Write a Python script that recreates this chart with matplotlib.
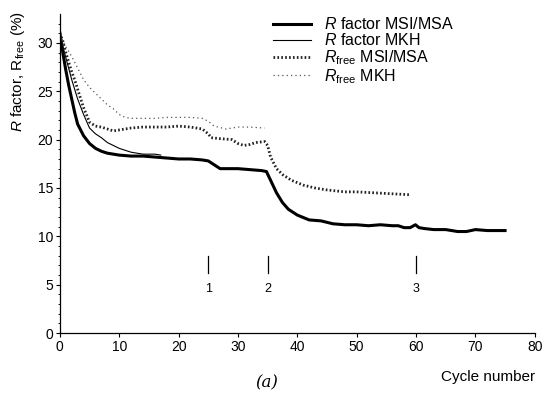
import numpy as np
import matplotlib
matplotlib.use("Agg")
import matplotlib.pyplot as plt

plt.rcParams['font.family'] = ['Liberation Sans', 'DejaVu Sans']
plt.rcParams['mathtext.fontset'] = 'custom'
plt.rcParams['mathtext.rm'] = 'Liberation Sans'
plt.rcParams['mathtext.it'] = 'Liberation Sans:italic'

# R factor MSI/MSA (thick solid)
cyc_r_msi = [0, 0.5, 1, 1.5, 2, 2.5, 3, 4, 5, 6, 7, 8, 10, 12, 14, 16, 18, 20, 22, 24,
             25, 26, 27, 28, 30, 32, 34, 34.8, 35.5, 36.5, 37.5, 38.5, 40, 42, 44, 46, 48, 50, 52, 54,
             56, 57, 58, 59, 59.9, 60.5, 61.5, 63, 65, 67, 68.5, 70, 72, 75]
r_msi = [31, 29, 27.2, 25.6, 24.2, 22.8, 21.6, 20.4, 19.6, 19.1, 18.8, 18.6, 18.4, 18.3, 18.3, 18.2, 18.1, 18.0, 18.0, 17.9,
         17.8, 17.4, 17.0, 17.0, 17.0, 16.9, 16.8, 16.7, 15.8, 14.5, 13.5, 12.8, 12.2, 11.7, 11.6, 11.3, 11.2, 11.2, 11.1, 11.2,
         11.1, 11.1, 10.9, 10.9, 11.2, 10.9, 10.8, 10.7, 10.7, 10.5, 10.5, 10.7, 10.6, 10.6]

# R factor MKH (thin solid)
cyc_r_mkh = [0, 1, 2, 3, 4, 5, 6, 7, 8, 10, 12, 14, 16, 17]
r_mkh = [30.8, 28.5, 26.2, 24.2, 22.6, 21.2, 20.6, 20.2, 19.7, 19.1, 18.7, 18.5, 18.5, 18.4]

# R free MSI/MSA (thick dotted)
cyc_f_msi = [0, 0.5, 1, 1.5, 2, 2.5, 3, 4, 5, 6, 7, 8, 9, 10, 12, 14, 16, 18, 20, 22,
             24, 25, 25.5, 27, 29, 30, 31, 32, 33, 34.5, 35, 35.5, 36.5, 37.5, 39, 41, 43, 45, 48, 50,
             53, 56, 59]
f_msi = [31, 30.2, 29, 28, 27, 26.2, 25.2, 23.3, 21.8, 21.4, 21.3, 21.1, 20.9, 21.0, 21.2, 21.3, 21.3, 21.3, 21.4, 21.3,
         21.1, 20.6, 20.2, 20.1, 20.0, 19.6, 19.4, 19.5, 19.7, 19.8, 19.4, 18.2, 17.0, 16.4, 15.8, 15.3, 15.0, 14.8, 14.6, 14.6,
         14.5, 14.4, 14.3]

# R free MKH (thin dotted)
cyc_f_mkh = [0, 0.5, 1, 2, 3, 4, 5, 6, 7, 8, 9, 10, 11, 12, 14, 16, 18, 20, 22, 24,
             25, 26, 28, 29, 30, 32, 34.5]
f_mkh = [30.8, 30.2, 29.6, 28.6, 27.4, 26.2, 25.4, 24.8, 24.2, 23.6, 23.2, 22.6, 22.3, 22.2, 22.2, 22.2, 22.3, 22.3, 22.3, 22.2,
         21.9, 21.4, 21.1, 21.2, 21.3, 21.3, 21.2]

# cycle markers
marker_x = [25, 35, 60]
marker_lbl = ['1', '2', '3']

fig = plt.figure(figsize=(5.44, 3.97), dpi=100)
ax = fig.add_axes([0.110, 0.161, 0.873, 0.804])

ax.plot(cyc_r_msi, r_msi, color='black', lw=2.2, label='$R$ factor MSI/MSA')
ax.plot(cyc_r_mkh, r_mkh, color='black', lw=0.8, label='$R$ factor MKH')
ax.plot(cyc_f_msi, f_msi, color='#222222', lw=2.0, ls=(0, (0.6, 0.8)), label=r'$R_{\mathrm{free}}$ MSI/MSA')
ax.plot(cyc_f_mkh, f_mkh, color='#555555', lw=0.9, ls=(0, (1, 2.5)), label=r'$R_{\mathrm{free}}$ MKH')

for x, lbl in zip(marker_x, marker_lbl):
    ax.plot([x, x], [6.2, 8.0], color='black', lw=0.9)
    ax.text(x, 4.6, lbl, ha='center', va='center', fontsize=9)

ax.set_xlim(0, 80)
ax.set_ylim(0, 33)
ax.set_xticks(range(0, 81, 10))
ax.set_yticks(range(0, 31, 5))
ax.set_yticks(range(0, 33), minor=True)
ax.tick_params(axis='both', labelsize=10, direction='out', length=3, width=0.8, pad=2)
ax.tick_params(axis='y', which='minor', length=1.5, width=0.6)
for s in ['top', 'right']:
    ax.spines[s].set_visible(False)
ax.spines['left'].set_linewidth(0.9)
ax.spines['bottom'].set_linewidth(0.9)

leg = fig.legend(loc='upper left', bbox_to_anchor=(0.49, 0.975), frameon=False,
                 fontsize=11.5, handlelength=2.4, handletextpad=0.8, labelspacing=0.0,
                 borderaxespad=0)

fig.text(18 / 544, 0.82, r'$R$ factor, $\mathrm{R_{free}}$ (%)', rotation=90,
         ha='center', va='center', fontsize=11)
fig.text(535 / 544, 1 - 377 / 397, 'Cycle number', ha='right', va='center', fontsize=11)
fig.text(267 / 544, 1 - 383 / 397, '(a)', ha='center', va='center', fontsize=12,
         family='DejaVu Serif', style='italic')

fig.savefig('out.png', dpi=100)
